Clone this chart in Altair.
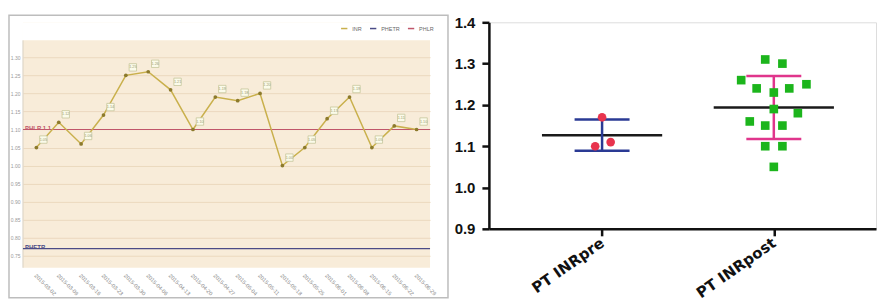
import altair as alt
import pandas as pd

# ---------------- Left panel data (INR monitoring chart) ----------------
dates = ["2015-03-02", "2015-03-09", "2015-03-16", "2015-03-23", "2015-03-30",
         "2015-04-06", "2015-04-13", "2015-04-20", "2015-04-27", "2015-05-04",
         "2015-05-11", "2015-05-18", "2015-05-25", "2015-06-01", "2015-06-08",
         "2015-06-15", "2015-06-22", "2015-06-29"]
inr_values = [1.05, 1.12, 1.06, 1.14, 1.25, 1.26, 1.21, 1.10, 1.19, 1.18,
              1.20, 1.00, 1.05, 1.13, 1.19, 1.05, 1.11, 1.10]
ref_names = ["PHETR", "PHLR"]
ref_values = [0.77, 1.10]
ref_labels = ["PHETR", "PHLR 1.1"]
left_ticks = [0.75, 0.80, 0.85, 0.90, 0.95, 1.00, 1.05, 1.10, 1.15, 1.20, 1.25, 1.30]
series_names = ["INR", "PHETR", "PHLR"]
series_colors = ["#c9b04c", "#4b4b86", "#c0566a"]

# ---------------- Right panel data (scatter with mean ± SD) ----------------
groups = ["PT INRpre", "PT INRpost"]
pre_values = [1.17, 1.10, 1.11]
pre_jitter = [0.0, -0.04, 0.05]
post_values = [1.31, 1.30, 1.26, 1.24, 1.23, 1.24, 1.25, 1.19, 1.18, 1.16,
               1.15, 1.15, 1.10, 1.10, 1.05]
post_jitter = [-0.05, 0.05, -0.19, -0.10, 0.0, 0.09, 0.19, 0.0, 0.14, -0.14,
               -0.05, 0.05, -0.05, 0.05, 0.0]

# ---------------- Left chart ----------------
LW, LH = 408, 246
Y_LO, Y_HI, BEIGE_TOP = 0.717, 1.397, 1.347
yscale_l = alt.Scale(domain=[Y_LO, Y_HI], nice=False, zero=False)
color_scale = alt.Scale(domain=series_names, range=series_colors)

left_df = pd.DataFrame({"date": dates, "inr": inr_values, "series": "INR"})
ref_df = pd.DataFrame({"series": ref_names, "value": ref_values, "label": ref_labels})

xl = alt.X("date:N", sort=dates, scale=alt.Scale(type="point", padding=0.6),
           axis=alt.Axis(title=None, labelAngle=45, labelAlign="left", labelBaseline="top",
                         labelFontSize=5.5, labelColor="#8a8a8a", labelPadding=5,
                         ticks=False, domain=False, grid=False, labelFont="Liberation Sans",
                         labelOverlap=False))
yl_axis = alt.Axis(values=left_ticks, format=".2f", title=None, labelFontSize=5,
                   labelColor="#9a9a9a", ticks=False, domain=False, labelPadding=3,
                   grid=True, gridColor="#ebd9bf", gridWidth=1, labelFont="Liberation Sans",
                   labelOverlap=False, labelBound=False, labelFlush=False,
                   labelSeparation=0)

frame = alt.Chart(alt.Data(values=[{}])).mark_rect(
    fillOpacity=0, stroke="#bdbdbd", strokeWidth=1.5
).encode(x=alt.value(-14), x2=alt.value(LW + 18), y=alt.value(-7), y2=alt.value(LH + 30))

white_top = alt.Chart(alt.Data(values=[{}])).mark_rect(color="white").encode(
    x=alt.value(0), x2=alt.value(LW),
    y=alt.Y(datum=BEIGE_TOP, scale=yscale_l, axis=yl_axis), y2=alt.value(0))

left_border = alt.Chart(alt.Data(values=[{}])).mark_rule(color="#d8d0c2", strokeWidth=1).encode(
    x=alt.value(0), y=alt.Y(datum=BEIGE_TOP, scale=yscale_l, axis=yl_axis), y2=alt.value(LH))

ref_rules = alt.Chart(ref_df).mark_rule(strokeWidth=1.2).encode(
    y=alt.Y("value:Q", scale=yscale_l, axis=yl_axis),
    color=alt.Color("series:N", scale=color_scale,
                    legend=alt.Legend(orient="none", legendX=318, legendY=2,
                                      direction="horizontal", title=None,
                                      symbolType="stroke", symbolStrokeWidth=1.5,
                                      symbolSize=40, labelFontSize=5.5,
                                      labelColor="#666666", columnPadding=4,
                                      labelFont="Liberation Sans")))

ref_text = alt.Chart(ref_df).mark_text(
    align="left", baseline="bottom", fontSize=6, fontWeight="bold", dx=2, dy=1
).encode(y=alt.Y("value:Q", scale=yscale_l, axis=yl_axis), x=alt.value(0),
         text="label:N", color=alt.Color("series:N", scale=color_scale))

inr_line = alt.Chart(left_df).mark_line(strokeWidth=1.5).encode(
    x=xl, y=alt.Y("inr:Q", scale=yscale_l, axis=yl_axis),
    color=alt.Color("series:N", scale=color_scale))

inr_pts = alt.Chart(left_df).mark_circle(size=14, color="#8c7a2c", opacity=1).encode(
    x=xl, y=alt.Y("inr:Q", scale=yscale_l, axis=yl_axis))

inr_boxes = alt.Chart(left_df).mark_square(
    size=55, fill="#fbfbea", stroke="#c7c79c", strokeWidth=0.8, xOffset=7, yOffset=-8,
    opacity=1
).encode(x=xl, y=alt.Y("inr:Q", scale=yscale_l, axis=yl_axis))

inr_text = alt.Chart(left_df).mark_text(
    fontSize=3.8, color="#9a9a70", dx=7, dy=-8
).encode(x=xl, y=alt.Y("inr:Q", scale=yscale_l, axis=yl_axis),
         text=alt.Text("inr:Q", format=".2f"))

left = alt.layer(frame, white_top, left_border, ref_rules, ref_text, inr_line,
                 inr_pts, inr_boxes, inr_text).properties(
    width=LW, height=LH,
    view=alt.ViewBackground(fill="#f8ecd9", stroke=None))

# ---------------- Right chart ----------------
RW, RH = 388, 207
pts = pd.DataFrame({
    "grp": [groups[0]] * len(pre_values) + [groups[1]] * len(post_values),
    "gx": [1] * len(pre_values) + [2] * len(post_values),
    "jit": pre_jitter + post_jitter,
    "value": pre_values + post_values,
})

xscale_r = alt.Scale(domain=[0.341, 2.595], nice=False, zero=False)
label_expr = f"datum.value == 1 ? '{groups[0]}' : '{groups[1]}'"
xaxis_r = alt.Axis(values=[1, 2], labelExpr=label_expr, title=None, grid=False,
                   labelAngle=-35, labelAlign="right", labelBaseline="middle",
                   labelFont="DejaVu Sans", labelFontWeight="bold", labelFontSize=15,
                   labelColor="#111111", labelPadding=5, tickSize=7, tickWidth=2.5,
                   tickColor="#111111", domainColor="#111111", domainWidth=2.5)
yscale_r = alt.Scale(domain=[0.9, 1.4], nice=False, zero=False)
yaxis_r = alt.Axis(values=[0.9, 1.0, 1.1, 1.2, 1.3, 1.4], format=".1f", title=None,
                   grid=False, labelFont="Liberation Sans", labelFontWeight="bold",
                   labelFontSize=15, labelColor="#111111", labelPadding=7, tickSize=7,
                   tickWidth=2.5, tickColor="#111111", domainColor="#111111",
                   domainWidth=2.5)

bar_stroke = alt.Stroke("grp:N", scale=alt.Scale(domain=groups, range=["#2a3a94", "#e0358c"]),
                        legend=None)

base_r = alt.Chart(pts)
summary = base_r.transform_aggregate(
    mean="mean(value)", sd="stdev(value)", groupby=["grp", "gx"]
).transform_calculate(
    lo="datum.mean - datum.sd", hi="datum.mean + datum.sd",
    ml="datum.gx - 0.35", mr="datum.gx + 0.35",
    cl="datum.gx - 0.16", cr="datum.gx + 0.16",
)

mean_line = summary.mark_rule(color="#1a1a1a", strokeWidth=2.5).encode(
    x=alt.X("ml:Q", scale=xscale_r, axis=xaxis_r), x2="mr:Q",
    y=alt.Y("mean:Q", scale=yscale_r, axis=yaxis_r))
sd_vert = summary.mark_rule(strokeWidth=2.5).encode(
    x=alt.X("gx:Q", scale=xscale_r), y=alt.Y("lo:Q", scale=yscale_r), y2="hi:Q",
    stroke=bar_stroke)
cap_lo = summary.mark_rule(strokeWidth=2.5).encode(
    x=alt.X("cl:Q", scale=xscale_r), x2="cr:Q", y=alt.Y("lo:Q", scale=yscale_r),
    stroke=bar_stroke)
cap_hi = summary.mark_rule(strokeWidth=2.5).encode(
    x=alt.X("cl:Q", scale=xscale_r), x2="cr:Q", y=alt.Y("hi:Q", scale=yscale_r),
    stroke=bar_stroke)

points = base_r.transform_calculate(x="datum.gx + datum.jit").mark_point(
    filled=True, size=75, opacity=1, strokeWidth=0
).encode(
    x=alt.X("x:Q", scale=xscale_r),
    y=alt.Y("value:Q", scale=yscale_r),
    fill=alt.Fill("grp:N", scale=alt.Scale(domain=groups, range=["#e8344e", "#1cb51c"]),
                  legend=None),
    shape=alt.Shape("grp:N", scale=alt.Scale(domain=groups, range=["circle", "square"]),
                    legend=None),
)

right = alt.layer(mean_line, sd_vert, cap_lo, cap_hi, points).properties(
    width=RW, height=RH)

chart = alt.hconcat(left, right, spacing=4).properties(
    padding={"left": 0, "top": 6, "right": 0, "bottom": 0}
).configure_view(stroke=None).configure_axis(
    labelOverlap=False
).configure(background="white")

chart.save("out.html", embed_options={"renderer": "svg", "actions": False})
